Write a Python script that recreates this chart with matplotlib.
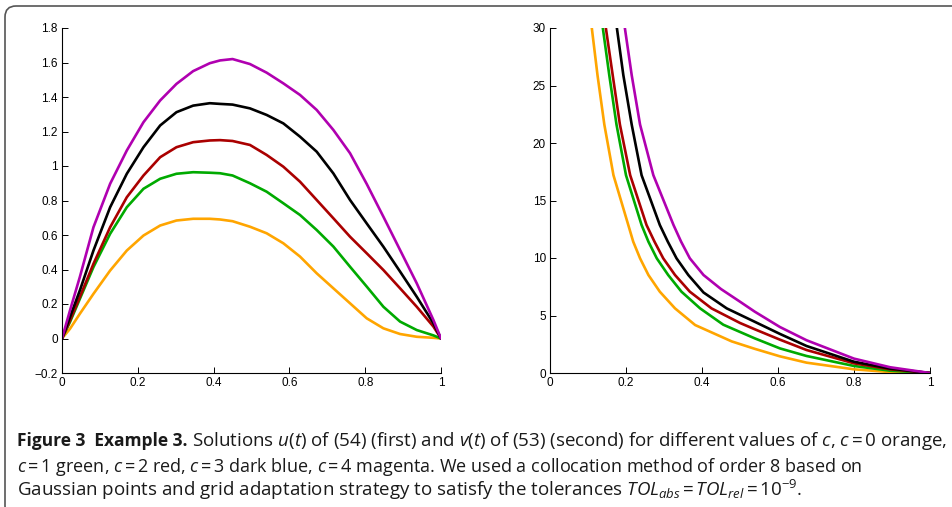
import matplotlib
matplotlib.use("Agg")
import matplotlib.pyplot as plt
from matplotlib.patches import FancyBboxPatch
from matplotlib.transforms import IdentityTransform

# ---------------- data ----------------
c_values = [0, 1, 2, 3, 4]
colors = ["#FFA500", "#00AA00", "#AA0000", "#000000", "#B000B0"]

# left panel: u(t)
t_u = [0, 0.021, 0.047, 0.083, 0.127, 0.171, 0.215, 0.259, 0.302, 0.346, 0.390,
       0.417, 0.45, 0.496, 0.540, 0.584, 0.628, 0.672, 0.716, 0.76, 0.804, 0.848,
       0.892, 0.936, 0.98, 1.0]
u_c0 = [0, 0.056, 0.143, 0.259, 0.394, 0.510, 0.597, 0.655, 0.684, 0.694, 0.694,
        0.690, 0.68, 0.648, 0.610, 0.552, 0.475, 0.378, 0.291, 0.204, 0.117, 0.059,
        0.026, 0.01, 0.004, 0]
u_c1 = [0, 0.095, 0.229, 0.414, 0.607, 0.761, 0.868, 0.926, 0.955, 0.964, 0.961,
        0.958, 0.945, 0.9, 0.851, 0.784, 0.716, 0.629, 0.533, 0.416, 0.301, 0.184,
        0.098, 0.049, 0.018, 0]
u_c2 = [0, 0.104, 0.240, 0.433, 0.645, 0.819, 0.945, 1.051, 1.109, 1.138, 1.148,
        1.150, 1.145, 1.122, 1.064, 0.996, 0.909, 0.803, 0.697, 0.590, 0.494, 0.397,
        0.291, 0.184, 0.069, 0]
u_c3 = [0, 0.124, 0.278, 0.510, 0.761, 0.955, 1.109, 1.235, 1.312, 1.350, 1.364,
        1.360, 1.356, 1.334, 1.296, 1.247, 1.170, 1.083, 0.957, 0.803, 0.667, 0.532,
        0.388, 0.242, 0.088, 0]
u_c4 = [0, 0.162, 0.356, 0.645, 0.897, 1.090, 1.254, 1.380, 1.476, 1.550, 1.596,
        1.612, 1.62, 1.591, 1.541, 1.479, 1.412, 1.325, 1.209, 1.074, 0.896, 0.706,
        0.513, 0.32, 0.107, 0]

# right panel: v(t)
t_v0 = [0.110, 0.125, 0.143, 0.167, 0.206, 0.219, 0.237, 0.259, 0.289, 0.329, 0.382,
        0.478, 0.539, 0.605, 0.675, 0.8, 0.895, 1.0]
v_c0 = [30, 25.9, 21.6, 17.2, 12.87, 11.42, 9.97, 8.52, 7.07, 5.62, 4.17,
        2.75, 2.1, 1.45, 0.90, 0.32, 0.08, 0]
t_v1 = [0.139, 0.156, 0.175, 0.200, 0.241, 0.259, 0.281, 0.311, 0.346, 0.395, 0.456,
        0.539, 0.605, 0.675, 0.8, 0.895, 1.0]
v_c1 = [30, 25.9, 21.6, 17.2, 12.87, 11.42, 9.97, 8.52, 7.07, 5.62, 4.2,
        3.01, 2.14, 1.48, 0.61, 0.2, 0]
t_v2 = [0.147, 0.165, 0.184, 0.211, 0.254, 0.275, 0.298, 0.329, 0.368, 0.425, 0.5,
        0.539, 0.605, 0.675, 0.8, 0.895, 1.0]
v_c2 = [30, 25.9, 21.6, 17.2, 12.87, 11.42, 9.97, 8.52, 7.07, 5.62, 4.35,
        3.8, 2.9, 2.0, 0.84, 0.32, 0]
t_v3 = [0.176, 0.193, 0.215, 0.241, 0.289, 0.310, 0.333, 0.364, 0.404, 0.465,
        0.539, 0.605, 0.675, 0.8, 0.895, 1.0]
v_c3 = [30, 25.9, 21.6, 17.2, 12.87, 11.42, 9.97, 8.52, 7.0, 5.62,
        4.45, 3.4, 2.35, 0.98, 0.38, 0]
t_v4 = [0.197, 0.215, 0.237, 0.272, 0.325, 0.345, 0.368, 0.404, 0.45, 0.5,
        0.539, 0.605, 0.675, 0.8, 0.895, 1.0]
v_c4 = [30, 25.9, 21.6, 17.2, 12.87, 11.42, 9.97, 8.52, 7.3, 6.2,
        5.33, 4.0, 2.85, 1.25, 0.5, 0]

x_ticks = [0, 0.2, 0.4, 0.6, 0.8, 1]
x_ticklabels = ["0", "0.2", "0.4", "0.6", "0.8", "1"]
u_ticks = [-0.2, 0, 0.2, 0.4, 0.6, 0.8, 1.0, 1.2, 1.4, 1.6, 1.8]
u_ticklabels = ["\u22120.2", "0", "0.2", "0.4", "0.6", "0.8", "1", "1.2", "1.4", "1.6", "1.8"]
v_ticks = [0, 5, 10, 15, 20, 25, 30]
v_ticklabels = ["0", "5", "10", "15", "20", "25", "30"]

caption_bold = "Figure 3  Example 3."
caption_lines = [
    r"Solutions $u$($t$) of (54) (first) and $v$($t$) of (53) (second) for different values of $c$, $c\,$=$\,$0 orange,",
    r"$c\,$=$\,$1 green, $c\,$=$\,$2 red, $c\,$=$\,$3 dark blue, $c\,$=$\,$4 magenta. We used a collocation method of order 8 based on",
    r"Gaussian points and grid adaptation strategy to satisfy the tolerances $TOL_{abs}\,$=$\,TOL_{rel}\,$=$\,$10$^{-9}$.",
]

# ---------------- figure ----------------
W, H = 952, 507
DPI = 100
CAP_FONT = "Open Sans"
plt.rcParams["mathtext.fontset"] = "custom"
plt.rcParams["mathtext.rm"] = CAP_FONT
plt.rcParams["mathtext.it"] = CAP_FONT + ":italic"
plt.rcParams["mathtext.bf"] = CAP_FONT + ":bold"

fig = plt.figure(figsize=(W / DPI, H / DPI), dpi=DPI)
fig.patch.set_facecolor("white")


def px_axes(x0, x1, y0, y1):
    return fig.add_axes([x0 / W, (H - y1) / H, (x1 - x0) / W, (y1 - y0) / H])


ax1 = px_axes(62, 441, 28, 373)
ax2 = px_axes(550, 930, 28, 373)

u_series = [u_c0, u_c1, u_c2, u_c3, u_c4]
for u, col in zip(u_series, colors):
    ax1.plot(t_u, u, color=col, lw=1.9, solid_joinstyle="round", solid_capstyle="round")

t_v_series = [t_v0, t_v1, t_v2, t_v3, t_v4]
v_series = [v_c0, v_c1, v_c2, v_c3, v_c4]
for tv, v, col in zip(t_v_series, v_series, colors):
    ax2.plot(tv, v, color=col, lw=1.9, solid_joinstyle="round", solid_capstyle="round")

tick_font = dict(family=["Liberation Sans", "DejaVu Sans"], size=8.5)
for ax in (ax1, ax2):
    ax.set_xlim(0, 1)
    ax.set_xticks(x_ticks)
    ax.set_xticklabels(x_ticklabels, **tick_font)
    for s in ("top", "right"):
        ax.spines[s].set_visible(False)
    for s in ("left", "bottom"):
        ax.spines[s].set_linewidth(0.8)
        ax.spines[s].set_color("black")
    ax.tick_params(direction="in", length=4, width=0.7, pad=3, colors="black")
    ax.patch.set_alpha(0)

ax1.set_ylim(-0.2, 1.8)
ax1.set_yticks(u_ticks)
ax1.set_yticklabels(u_ticklabels, **tick_font)
ax2.set_ylim(0, 30)
ax2.set_yticks(v_ticks)
ax2.set_yticklabels(v_ticklabels, **tick_font)

# caption: each piece is fitted to the span it covers in the reference
renderer = fig.canvas.get_renderer()


def fitted_text(x0, x1, y_base, s, weight="normal", size0=12.0):
    t = fig.text(x0 / W, (H - y_base) / H, s, family=CAP_FONT, fontsize=size0,
                 fontweight=weight, color="#1a1a1a", va="baseline", ha="left")
    w = t.get_window_extent(renderer).width
    t.set_fontsize(size0 * (x1 - x0) / w)
    return t


cap_base = [446.5, 471.5, 496.5]
fitted_text(17, 188, cap_base[0], caption_bold, weight="bold")
reg = [fitted_text(192, 945, cap_base[0], caption_lines[0]),
       fitted_text(17, 840, cap_base[1], caption_lines[1]),
       fitted_text(17, 808, cap_base[2], caption_lines[2])]
mean_size = sum(t.get_fontsize() for t in reg) / len(reg)
for t in reg:
    t.set_fontsize(min(max(t.get_fontsize(), mean_size * 0.98), mean_size * 1.02))

# rounded border
border = FancyBboxPatch((5, -10), 960, H - 6 + 10,
                        boxstyle="round,pad=0,rounding_size=11",
                        transform=IdentityTransform(), fill=False,
                        edgecolor="#555555", linewidth=1.2)
fig.add_artist(border)

fig.savefig("out.png", dpi=DPI, facecolor="white")
